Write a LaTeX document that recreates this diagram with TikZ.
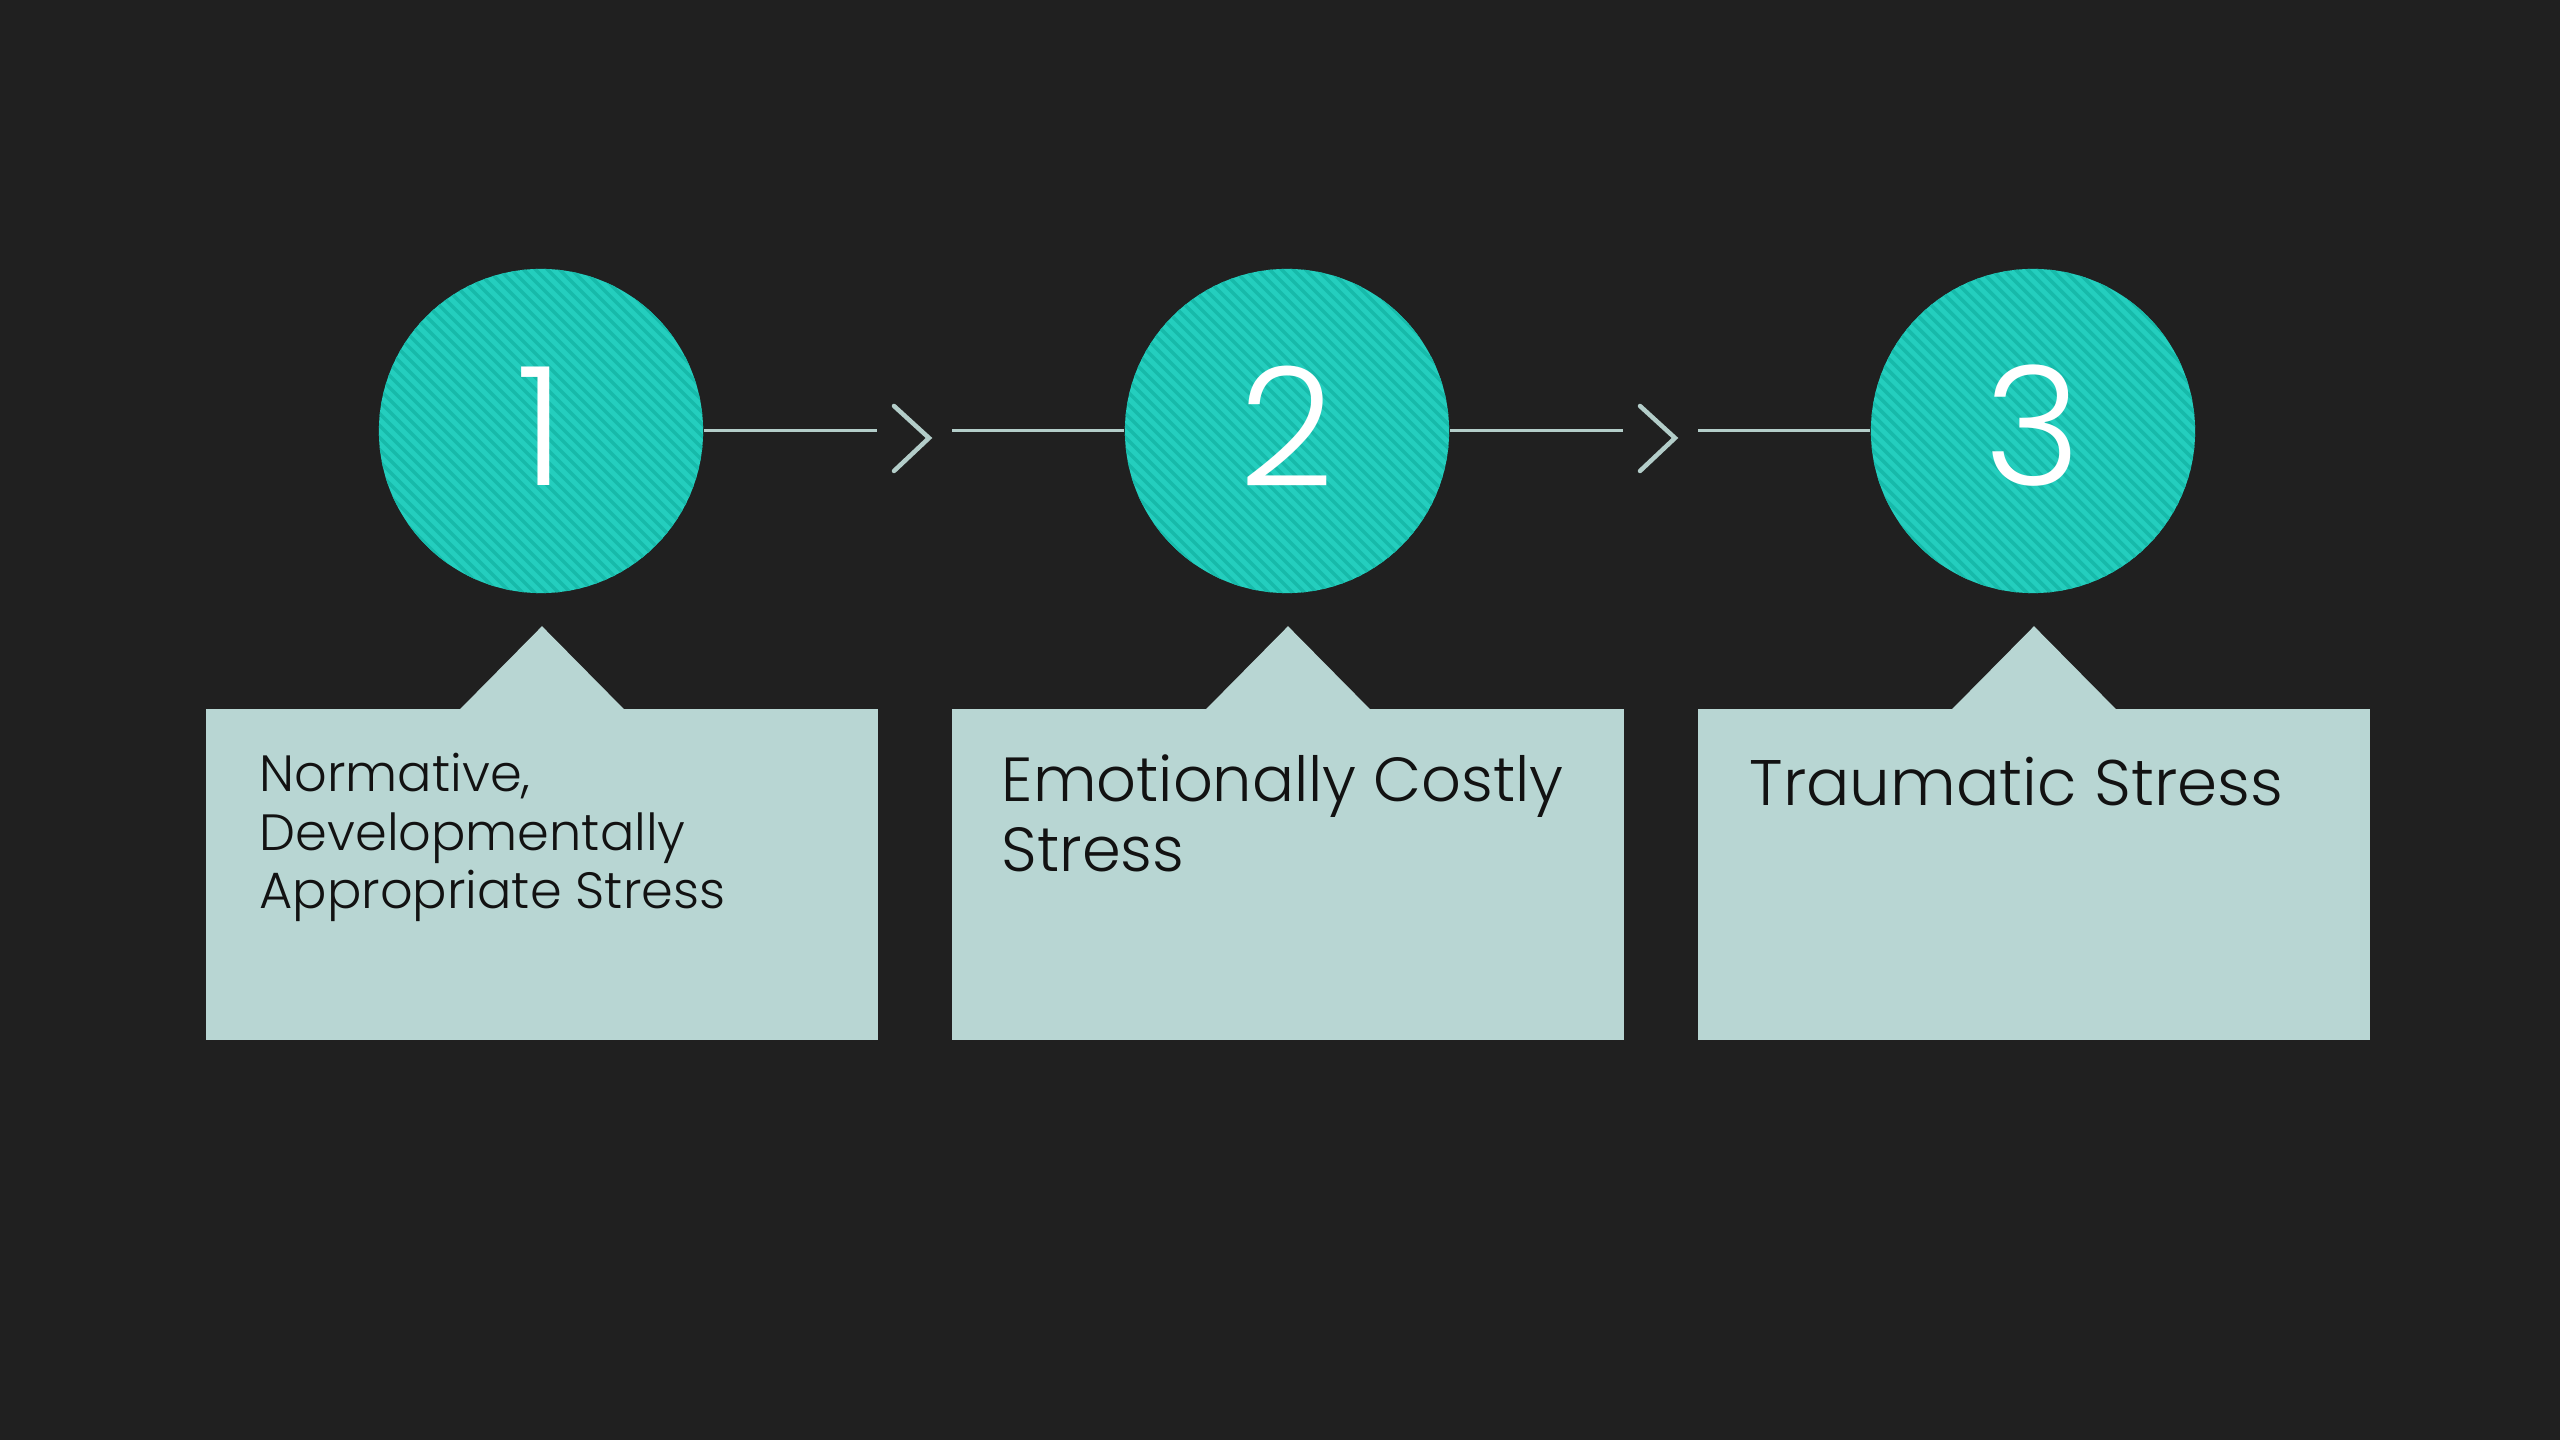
\documentclass[tikz,border=0pt]{standalone}
\usepackage{fontspec}
\setmainfont{Poppins}[UprightFont=* Light]
\definecolor{bgc}{HTML}{202020}
\definecolor{teal1}{HTML}{24CEBE}
\definecolor{teal2}{HTML}{17BAAA}
\definecolor{boxc}{HTML}{B8D6D3}
\definecolor{linec}{HTML}{B3CDC9}
\definecolor{txtc}{HTML}{121212}
\tikzset{
  numcircle/.style={circle, fill=teal1, minimum size=3.24cm, inner sep=0pt},
  digit/.style={text=white, font=\fontsize{47}{50}\selectfont, inner sep=0pt},
  stripe/.style={draw=teal2, line width=0.035cm},
  callout/.style={rectangle, fill=boxc, minimum width=6.72cm, minimum height=3.31cm, inner sep=0pt},
  conn/.style={draw=linec, line width=0.03cm},
  chev/.style={draw=linec, line width=0.045cm, line cap=round, line join=miter},
  lbl/.style={text=txtc, inner sep=0pt, anchor=base west}
}
\begin{document}
\begin{tikzpicture}[x=0.01cm,y=-0.01cm]
\fill[bgc] (0,0) rectangle (2560,1440);
\useasboundingbox (0,0) rectangle (2560,1440);

% circles
\foreach \i/\cx in {1/541,2/1287,3/2033}{
  \node[numcircle] (c\i) at (\cx,431) {};
  \begin{scope}
    \clip (c\i.center) circle [radius=1.62cm];
    \foreach \d in {-480,-468,...,480}{
      \draw[stripe] (\cx+\d-200,231) -- ++(400,400);
    }
  \end{scope}
  \node[digit] (n\i) at (\cx,426) {\i};
}

% connectors
\coordinate (e1) at (877,431);
\coordinate (s1) at (952,431);
\coordinate (e2) at (1623,431);
\coordinate (s2) at (1698,431);
\draw[conn] (c1.east) -- (e1);
\draw[conn] (s1) -- (c2.west);
\draw[conn] (c2.east) -- (e2);
\draw[conn] (s2) -- (c3.west);
\coordinate (k1) at (929,438);
\coordinate (k2) at (1675,438);
\draw[chev] (k1) ++(-35,-32) -- (k1) -- ++(-35,33);
\draw[chev] (k2) ++(-35,-32) -- (k2) -- ++(-35,33);

% callout boxes
\foreach \i/\cx in {1/542,2/1288,3/2034}{
  \node[callout] (b\i) at (\cx,874.5) {};
  \fill[boxc] (b\i.north) ++(-82,1) -- ++(82,-83) -- ++(82,83) -- cycle;
}

\node[lbl] (t1) at (259,792) {\fontsize{14.5}{16.5}\selectfont\begin{tabular}[t]{@{}l@{}}Normative,\\Developmentally\\Appropriate Stress\end{tabular}};
\node[lbl] (t2) at (1001,802) {\fontsize{17.7}{19.9}\selectfont\begin{tabular}[t]{@{}l@{}}Emotionally Costly\\Stress\end{tabular}};
\node[lbl] (t3) at (1749,806) {\fontsize{18.3}{22}\selectfont Traumatic Stress};
\end{tikzpicture}
\end{document}
